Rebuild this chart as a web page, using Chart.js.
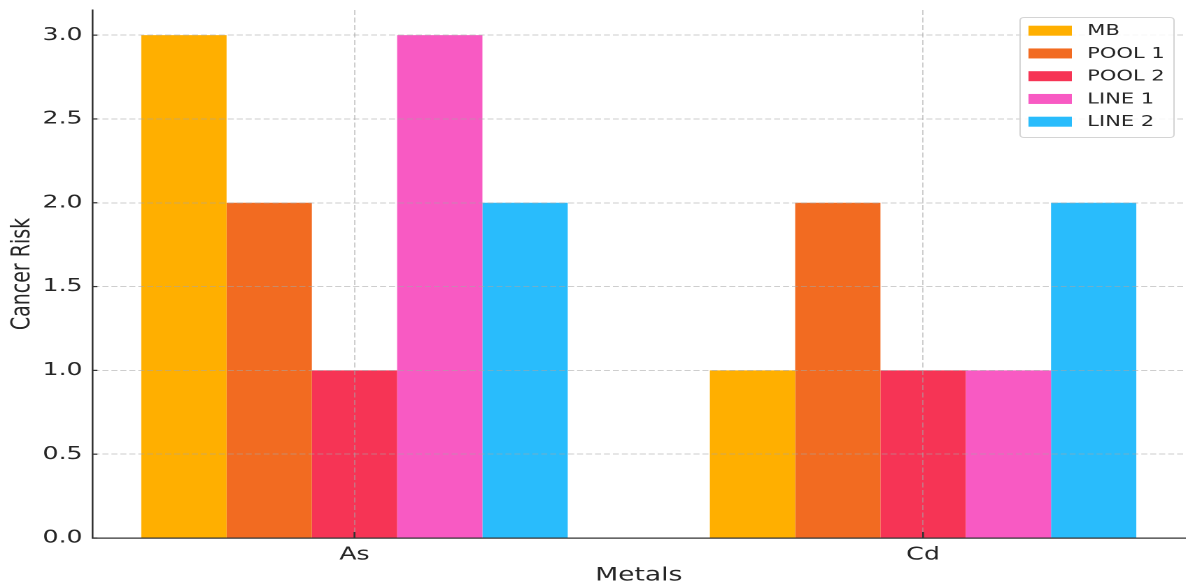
<!DOCTYPE html>
<html>
<head>
<meta charset="utf-8">
<script src="https://cdn.jsdelivr.net/npm/chart.js@4/dist/chart.umd.min.js"></script>
<style>
  html, body { margin: 0; padding: 0; background: #ffffff; overflow: hidden; }
  #wrap { width: 854px; height: 588px; transform: scaleX(1.39930); transform-origin: 0 0; }
</style>
</head>
<body>
<div id="wrap"><canvas id="c" width="854" height="588"></canvas></div>
<script>
// ---- data ----
const categories = ['As', 'Cd'];
const seriesNames = ['MB', 'POOL 1', 'POOL 2', 'LINE 1', 'LINE 2'];
const mbValues    = [3, 1];
const pool1Values = [2, 2];
const pool2Values = [1, 1];
const line1Values = [3, 1];
const line2Values = [2, 2];
const yTickValues = [0, 0.5, 1.0, 1.5, 2.0, 2.5, 3.0];
const xAxisTitle = 'Metals';
const yAxisTitle = 'Cancer Risk';

// ---- styles ----
const seriesColors = ['#FFAF00', '#F26B21', '#F63455', '#F85AC3', '#29BCFC'];
const FONT = "'DejaVu Sans', sans-serif";
const GRID = 'rgba(165,165,165,0.55)';
const AXIS = '#333333';
const TEXT = '#262626';

const seriesValues = [mbValues, pool1Values, pool2Values, line1Values, line2Values];
const datasets = seriesNames.map((name, s) => ({
  label: name,
  data: categories.map((c, i) => ({ x: i, y: seriesValues[s][i] })),
  backgroundColor: seriesColors[s],
  borderWidth: 0,
  categoryPercentage: 0.75,
  barPercentage: 1.0
}));

const innerTicks = {
  id: 'innerTicks',
  afterDraw(chart) {
    const { ctx, chartArea, scales } = chart;
    ctx.save();
    ctx.strokeStyle = AXIS;
    ctx.lineWidth = 1.2;
    scales.y.ticks.forEach(t => {
      const py = scales.y.getPixelForValue(t.value);
      ctx.beginPath();
      ctx.moveTo(chartArea.left, py);
      ctx.lineTo(chartArea.left + 3.6, py);
      ctx.stroke();
    });
    ctx.lineWidth = 1.3;
    scales.x.ticks.forEach(t => {
      const px = scales.x.getPixelForValue(t.value);
      ctx.beginPath();
      ctx.moveTo(px, chartArea.bottom);
      ctx.lineTo(px, chartArea.bottom - 6);
      ctx.stroke();
    });
    ctx.restore();
  }
};

const boxLegend = {
  id: 'boxLegend',
  afterDraw(chart) {
    const ctx = chart.ctx;
    const bx = 729, by = 17.5, bw = 110, bh = 120, r = 3;
    ctx.save();
    ctx.beginPath();
    ctx.moveTo(bx + r, by);
    ctx.lineTo(bx + bw - r, by);
    ctx.quadraticCurveTo(bx + bw, by, bx + bw, by + r);
    ctx.lineTo(bx + bw, by + bh - r);
    ctx.quadraticCurveTo(bx + bw, by + bh, bx + bw - r, by + bh);
    ctx.lineTo(bx + r, by + bh);
    ctx.quadraticCurveTo(bx, by + bh, bx, by + bh - r);
    ctx.lineTo(bx, by + r);
    ctx.quadraticCurveTo(bx, by, bx + r, by);
    ctx.closePath();
    ctx.fillStyle = 'rgba(255,255,255,0.85)';
    ctx.fill();
    ctx.strokeStyle = '#d4d4d4';
    ctx.lineWidth = 1;
    ctx.stroke();
    ctx.font = '15px ' + FONT;
    ctx.textBaseline = 'middle';
    ctx.textAlign = 'left';
    chart.data.datasets.forEach((ds, i) => {
      const cy = 30.7 + i * 22.75;
      ctx.fillStyle = ds.backgroundColor;
      ctx.fillRect(735, cy - 5, 31, 10);
      ctx.fillStyle = TEXT;
      ctx.fillText(ds.label, 777, cy + 0.5);
    });
    ctx.restore();
  }
};

new Chart(document.getElementById('c'), {
  type: 'bar',
  data: { datasets },
  options: {
    responsive: false,
    animation: false,
    devicePixelRatio: 2,
    layout: { padding: { top: 10, right: 7, left: 0, bottom: 0 } },
    plugins: {
      legend: { display: false },
      tooltip: { enabled: false }
    },
    scales: {
      x: {
        type: 'linear',
        min: -0.461,
        max: 1.461,
        offset: false,
        afterBuildTicks: s => { s.ticks = categories.map((c, i) => ({ value: i })); },
        afterFit: s => { s.height = 50; s.paddingLeft = 0; s.paddingRight = 0; },
        grid: { offset: false, color: GRID, lineWidth: 1, drawTicks: false, z: 1 },
        border: { display: true, color: AXIS, width: 1.3, dash: [5, 2.5], z: 2 },
        ticks: {
          padding: 6,
          color: TEXT,
          font: { family: FONT, size: 18 },
          maxRotation: 0,
          callback: v => categories[v] !== undefined ? categories[v] : ''
        },
        title: {
          display: true,
          text: xAxisTitle,
          color: TEXT,
          font: { family: FONT, size: 19 },
          padding: { top: 0, bottom: 1 }
        }
      },
      y: {
        min: 0,
        max: 3.15,
        afterBuildTicks: s => { s.ticks = yTickValues.map(v => ({ value: v })); },
        afterFit: s => { s.width = 66; s.paddingTop = 0; s.paddingBottom = 0; },
        grid: { color: GRID, lineWidth: 1, drawTicks: false, z: 1 },
        border: { display: true, color: AXIS, width: 1.3, dash: [4.3, 2.1], z: 2 },
        ticks: {
          padding: 7,
          color: TEXT,
          font: { family: FONT, size: 18 },
          callback: v => Number(v).toFixed(1)
        },
        title: {
          display: true,
          text: yAxisTitle,
          color: TEXT,
          font: { family: FONT, size: 19 },
          padding: { top: 4.5, bottom: 0 }
        }
      }
    }
  },
  plugins: [innerTicks, boxLegend]
});
</script>
</body>
</html>
